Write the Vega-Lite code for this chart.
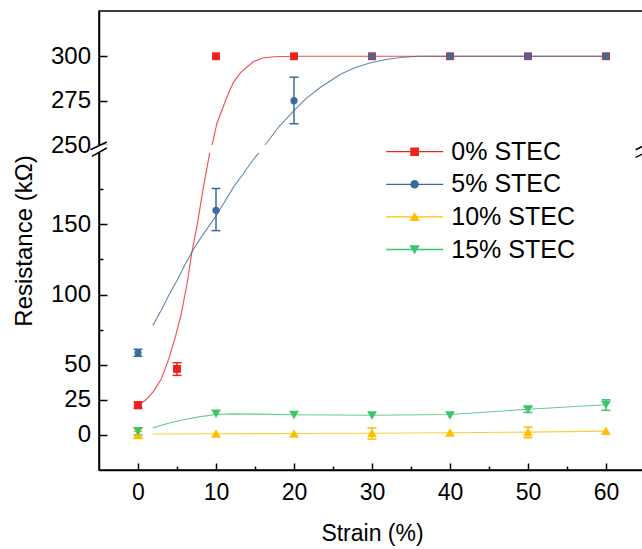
{
  "$schema": "https://vega.github.io/schema/vega-lite/v6.json",
  "width": 546,
  "height": 459,
  "autosize": {"type": "none"},
  "padding": {"left": 99, "top": 11, "right": 0, "bottom": 79},
  "background": "white",
  "config": {
    "font": "Liberation Sans",
    "view": {"stroke": "black", "strokeWidth": 1.5},
    "axis": {"labelFont": "Liberation Sans", "titleFont": "Liberation Sans", "labelColor": "black", "titleColor": "black", "domainColor": "black", "tickColor": "black", "titleFontWeight": "normal", "grid": false},
    "legend": {"title": null, "orient": "none", "legendX": 299.6, "legendY": 124.7, "padding": 0, "rowPadding": 3.6, "symbolSize": 1024, "symbolStrokeWidth": 0, "labelFontSize": 25, "labelFont": "Liberation Sans", "labelColor": "black", "labelOffset": 20.7, "labelLimit": 300}
  },
  "datasets": {
    "pts": [
      {"series": "0% STEC", "x": 0, "y": 21},
      {"series": "0% STEC", "x": 5, "y": 47},
      {"series": "0% STEC", "x": 10, "y": 300},
      {"series": "0% STEC", "x": 20, "y": 300},
      {"series": "0% STEC", "x": 30, "y": 300},
      {"series": "0% STEC", "x": 40, "y": 300},
      {"series": "0% STEC", "x": 50, "y": 300},
      {"series": "0% STEC", "x": 60, "y": 300},
      {"series": "5% STEC", "x": 0, "y": 58.5},
      {"series": "5% STEC", "x": 10, "y": 160},
      {"series": "5% STEC", "x": 20, "y": 275},
      {"series": "5% STEC", "x": 30, "y": 300},
      {"series": "5% STEC", "x": 40, "y": 300},
      {"series": "5% STEC", "x": 50, "y": 300},
      {"series": "5% STEC", "x": 60, "y": 300},
      {"series": "10% STEC", "x": 0, "y": 0.3},
      {"series": "10% STEC", "x": 10, "y": 1},
      {"series": "10% STEC", "x": 20, "y": 1},
      {"series": "10% STEC", "x": 30, "y": 1.3},
      {"series": "10% STEC", "x": 40, "y": 1.7},
      {"series": "10% STEC", "x": 50, "y": 2.1},
      {"series": "10% STEC", "x": 60, "y": 2.9},
      {"series": "15% STEC", "x": 0, "y": 2.6},
      {"series": "15% STEC", "x": 10, "y": 15},
      {"series": "15% STEC", "x": 20, "y": 14.2},
      {"series": "15% STEC", "x": 30, "y": 13.8},
      {"series": "15% STEC", "x": 40, "y": 13.8},
      {"series": "15% STEC", "x": 50, "y": 18.1},
      {"series": "15% STEC", "x": 60, "y": 21.4}
    ],
    "err": [
      {"series": "0% STEC", "x": 0, "lo": 19, "hi": 23.5},
      {"series": "0% STEC", "x": 5, "lo": 42.4, "hi": 51.4},
      {"series": "5% STEC", "x": 0, "lo": 56, "hi": 61},
      {"series": "5% STEC", "x": 10, "lo": 145.5, "hi": 175.5},
      {"series": "5% STEC", "x": 20, "lo": 262, "hi": 288.2},
      {"series": "10% STEC", "x": 0, "lo": -2.5, "hi": 2.5},
      {"series": "10% STEC", "x": 30, "lo": -3, "hi": 5},
      {"series": "10% STEC", "x": 50, "lo": -2, "hi": 5.5},
      {"series": "15% STEC", "x": 0, "lo": 0, "hi": 5},
      {"series": "15% STEC", "x": 50, "lo": 16, "hi": 20},
      {"series": "15% STEC", "x": 60, "lo": 17.5, "hi": 25}
    ],
    "fits": [
      {"series": "0% STEC", "x": 0.1, "y": 21.5},
      {"series": "0% STEC", "x": 1, "y": 25},
      {"series": "0% STEC", "x": 2, "y": 31},
      {"series": "0% STEC", "x": 3, "y": 40},
      {"series": "0% STEC", "x": 4, "y": 55},
      {"series": "0% STEC", "x": 4.8, "y": 70},
      {"series": "0% STEC", "x": 5.5, "y": 85},
      {"series": "0% STEC", "x": 6.3, "y": 108},
      {"series": "0% STEC", "x": 6.9, "y": 130},
      {"series": "0% STEC", "x": 7.6, "y": 150},
      {"series": "0% STEC", "x": 8.4, "y": 177},
      {"series": "0% STEC", "x": 9.2, "y": 201},
      {"series": "0% STEC", "x": 9.5, "y": 250},
      {"series": "0% STEC", "x": 10.1, "y": 262},
      {"series": "0% STEC", "x": 11.4, "y": 277},
      {"series": "0% STEC", "x": 12.2, "y": 285},
      {"series": "0% STEC", "x": 13.1, "y": 290.5},
      {"series": "0% STEC", "x": 14.8, "y": 297},
      {"series": "0% STEC", "x": 16, "y": 299},
      {"series": "0% STEC", "x": 17.4, "y": 299.7},
      {"series": "0% STEC", "x": 20, "y": 300},
      {"series": "0% STEC", "x": 60, "y": 300},
      {"series": "5% STEC", "x": 1.9, "y": 78},
      {"series": "5% STEC", "x": 3, "y": 89},
      {"series": "5% STEC", "x": 4, "y": 100},
      {"series": "5% STEC", "x": 5, "y": 110},
      {"series": "5% STEC", "x": 6, "y": 121},
      {"series": "5% STEC", "x": 7.1, "y": 132},
      {"series": "5% STEC", "x": 8, "y": 140},
      {"series": "5% STEC", "x": 9, "y": 148},
      {"series": "5% STEC", "x": 10, "y": 156},
      {"series": "5% STEC", "x": 11, "y": 165},
      {"series": "5% STEC", "x": 12.3, "y": 177},
      {"series": "5% STEC", "x": 13.5, "y": 186},
      {"series": "5% STEC", "x": 14.5, "y": 194},
      {"series": "5% STEC", "x": 15.5, "y": 201},
      {"series": "5% STEC", "x": 16.3, "y": 250},
      {"series": "5% STEC", "x": 18, "y": 260},
      {"series": "5% STEC", "x": 19.9, "y": 269},
      {"series": "5% STEC", "x": 21.5, "y": 276},
      {"series": "5% STEC", "x": 23.4, "y": 282.5},
      {"series": "5% STEC", "x": 25.9, "y": 289.7},
      {"series": "5% STEC", "x": 27.8, "y": 293.5},
      {"series": "5% STEC", "x": 29.8, "y": 296.3},
      {"series": "5% STEC", "x": 32, "y": 298.3},
      {"series": "5% STEC", "x": 34, "y": 299.4},
      {"series": "5% STEC", "x": 36, "y": 300},
      {"series": "5% STEC", "x": 60, "y": 300},
      {"series": "10% STEC", "x": 1.9, "y": 0.6},
      {"series": "10% STEC", "x": 10, "y": 0.8},
      {"series": "10% STEC", "x": 20, "y": 1},
      {"series": "10% STEC", "x": 30, "y": 1.2},
      {"series": "10% STEC", "x": 40, "y": 1.5},
      {"series": "10% STEC", "x": 50, "y": 2},
      {"series": "10% STEC", "x": 60, "y": 2.7},
      {"series": "15% STEC", "x": 1.9, "y": 5},
      {"series": "15% STEC", "x": 4, "y": 8.5},
      {"series": "15% STEC", "x": 6, "y": 11},
      {"series": "15% STEC", "x": 8, "y": 13},
      {"series": "15% STEC", "x": 10, "y": 14.5},
      {"series": "15% STEC", "x": 12, "y": 15},
      {"series": "15% STEC", "x": 15, "y": 14.8},
      {"series": "15% STEC", "x": 20, "y": 14.3},
      {"series": "15% STEC", "x": 30, "y": 14},
      {"series": "15% STEC", "x": 40, "y": 14.5},
      {"series": "15% STEC", "x": 50, "y": 18.3},
      {"series": "15% STEC", "x": 60, "y": 21.5}
    ]
  },
  "resolve": {
    "axis": {"x": "independent", "y": "independent"}
  },
  "layer": [
    {
      "data": {"name": "fits"},
      "mark": {"type": "line", "strokeWidth": 1.1, "strokeOpacity": 0.8, "interpolate": "linear"},
      "encoding": {
        "x": {"field": "x", "type": "quantitative", "scale": {"domain": [-5, 65], "nice": false, "zero": false},
              "axis": {"orient": "bottom", "values": [0, 10, 20, 30, 40, 50, 60], "tickSize": -7, "tickWidth": 1.5, "domainWidth": 1.5, "labelFontSize": 23, "labelPadding": 18, "title": "Strain (%)", "titleFontSize": 23, "titlePadding": 18}},
        "y": {"field": "y", "type": "quantitative", "scale": {"type": "linear", "domain": [-25, 201, 250, 325.5], "range": [459, 141.7, 134, 0], "nice": false, "zero": false},
              "axis": {"orient": "left", "values": [0, 25, 50, 100, 150, 250, 275, 300], "tickSize": -8, "tickWidth": 1.5, "domainWidth": 1.5, "labelFontSize": 24, "labelPadding": 16.5, "title": "Resistance (kΩ)", "titleFontSize": 24, "titlePadding": 14}},
        "color": {"field": "series", "type": "nominal", "scale": {"domain": ["0% STEC", "5% STEC", "10% STEC", "15% STEC"], "range": ["#F02020", "#3A6B9E", "#FFC000", "#3CC46E"]}},
        "detail": {"field": "series"}
      }
    },
    {
      "data": {"name": "err"},
      "mark": {"type": "rule", "strokeWidth": 1.5},
      "encoding": {
        "x": {"field": "x", "type": "quantitative", "axis": {"orient": "bottom", "values": [5, 15, 25, 35, 45, 55], "tickSize": -4, "tickWidth": 1.5, "labels": false, "domain": false, "title": null}},
        "y": {"field": "lo", "type": "quantitative", "axis": {"orient": "left", "values": [75, 125, 175], "tickSize": -4, "tickWidth": 1.5, "labels": false, "domain": false, "title": null}},
        "y2": {"field": "hi"},
        "color": {"field": "series", "type": "nominal"}
      }
    },
    {
      "data": {"name": "err"},
      "mark": {"type": "point", "shape": "stroke", "size": 81, "strokeWidth": 1.5, "opacity": 1, "filled": false},
      "encoding": {
        "x": {"field": "x", "type": "quantitative", "axis": null},
        "y": {"field": "lo", "type": "quantitative", "axis": null},
        "color": {"field": "series", "type": "nominal"}
      }
    },
    {
      "data": {"name": "err"},
      "mark": {"type": "point", "shape": "stroke", "size": 81, "strokeWidth": 1.5, "opacity": 1, "filled": false},
      "encoding": {
        "x": {"field": "x", "type": "quantitative", "axis": null},
        "y": {"field": "hi", "type": "quantitative", "axis": null},
        "color": {"field": "series", "type": "nominal"}
      }
    },
    {
      "data": {"name": "pts"},
      "transform": [{"filter": "datum.series == '0% STEC'"}],
      "mark": {"type": "point", "filled": true, "opacity": 1, "shape": "square", "size": 62},
      "encoding": {
        "x": {"field": "x", "type": "quantitative", "axis": null},
        "y": {"field": "y", "type": "quantitative", "axis": null},
        "color": {"field": "series", "type": "nominal"}
      }
    },
    {
      "data": {"name": "pts"},
      "transform": [{"filter": "datum.series == '5% STEC'"}],
      "mark": {"type": "point", "filled": true, "opacity": 1, "shape": "circle", "size": 52},
      "encoding": {
        "x": {"field": "x", "type": "quantitative", "axis": null},
        "y": {"field": "y", "type": "quantitative", "axis": null},
        "color": {"field": "series", "type": "nominal"}
      }
    },
    {
      "data": {"name": "pts"},
      "transform": [{"filter": "datum.series == '10% STEC'"}],
      "mark": {"type": "point", "filled": true, "opacity": 1, "shape": "triangle-up", "size": 95},
      "encoding": {
        "x": {"field": "x", "type": "quantitative", "axis": null},
        "y": {"field": "y", "type": "quantitative", "axis": null},
        "color": {"field": "series", "type": "nominal"}
      }
    },
    {
      "data": {"name": "pts"},
      "transform": [{"filter": "datum.series == '15% STEC'"}],
      "mark": {"type": "point", "filled": true, "opacity": 1, "shape": "triangle-down", "size": 95},
      "encoding": {
        "x": {"field": "x", "type": "quantitative", "axis": null},
        "y": {"field": "y", "type": "quantitative", "axis": null},
        "color": {"field": "series", "type": "nominal"}
      }
    },
    {
      "data": {"values": [{}]},
      "mark": {"type": "rect", "color": "white"},
      "encoding": {
        "x": {"datum": -5.35, "type": "quantitative", "axis": null},
        "x2": {"datum": 65.3},
        "y": {"datum": 201, "type": "quantitative", "axis": null},
        "y2": {"datum": 250}
      }
    },
    {
      "data": {"values": [{}]},
      "mark": {"type": "rule", "color": "black", "strokeWidth": 1.5},
      "encoding": {
        "x": {"datum": -6.1, "type": "quantitative", "axis": null},
        "x2": {"datum": -4.0},
        "y": {"datum": 220, "type": "quantitative", "axis": null},
        "y2": {"datum": 251.7}
      }
    },
    {
      "data": {"values": [{}]},
      "mark": {"type": "rule", "color": "black", "strokeWidth": 1.5},
      "encoding": {
        "x": {"datum": -5.9, "type": "quantitative", "axis": null},
        "x2": {"datum": -4.0},
        "y": {"datum": 198.4, "type": "quantitative", "axis": null},
        "y2": {"datum": 231}
      }
    },
    {
      "data": {"values": [{}]},
      "mark": {"type": "rule", "color": "black", "strokeWidth": 1.5},
      "encoding": {
        "x": {"datum": 63.8, "type": "quantitative", "axis": null},
        "x2": {"datum": 66.1},
        "y": {"datum": 220, "type": "quantitative", "axis": null},
        "y2": {"datum": 252.3}
      }
    },
    {
      "data": {"values": [{}]},
      "mark": {"type": "rule", "color": "black", "strokeWidth": 1.5},
      "encoding": {
        "x": {"datum": 63.8, "type": "quantitative", "axis": null},
        "x2": {"datum": 66.1},
        "y": {"datum": 197.7, "type": "quantitative", "axis": null},
        "y2": {"datum": 227}
      }
    },
    {
      "data": {"name": "pts"},
      "transform": [{"filter": "datum.x < -1000"}],
      "mark": {"type": "point", "filled": true, "opacity": 1, "size": 1024, "strokeWidth": 0},
      "encoding": {
        "x": {"field": "x", "type": "quantitative", "axis": null},
        "y": {"field": "y", "type": "quantitative", "axis": null},
        "color": {"field": "series", "type": "nominal"},
        "shape": {"field": "series", "type": "nominal", "scale": {"domain": ["0% STEC", "5% STEC", "10% STEC", "15% STEC"], "range": [
          "M-1.77,-0.04H1.79V0.04H-1.77ZM-0.27,-0.27H0.27V0.27H-0.27Z",
          "M-1.77,-0.04H1.79V0.04H-1.77ZM-0.27,0A0.27,0.27,0,1,1,0.27,0A0.27,0.27,0,1,1,-0.27,0Z",
          "M-1.77,-0.04H1.79V0.04H-1.77ZM0,-0.31L0.32,0.26L-0.32,0.26Z",
          "M-1.77,-0.04H1.79V0.04H-1.77ZM0,0.31L-0.32,-0.26L0.32,-0.26Z"
        ]}}
      }
    }
  ]
}
